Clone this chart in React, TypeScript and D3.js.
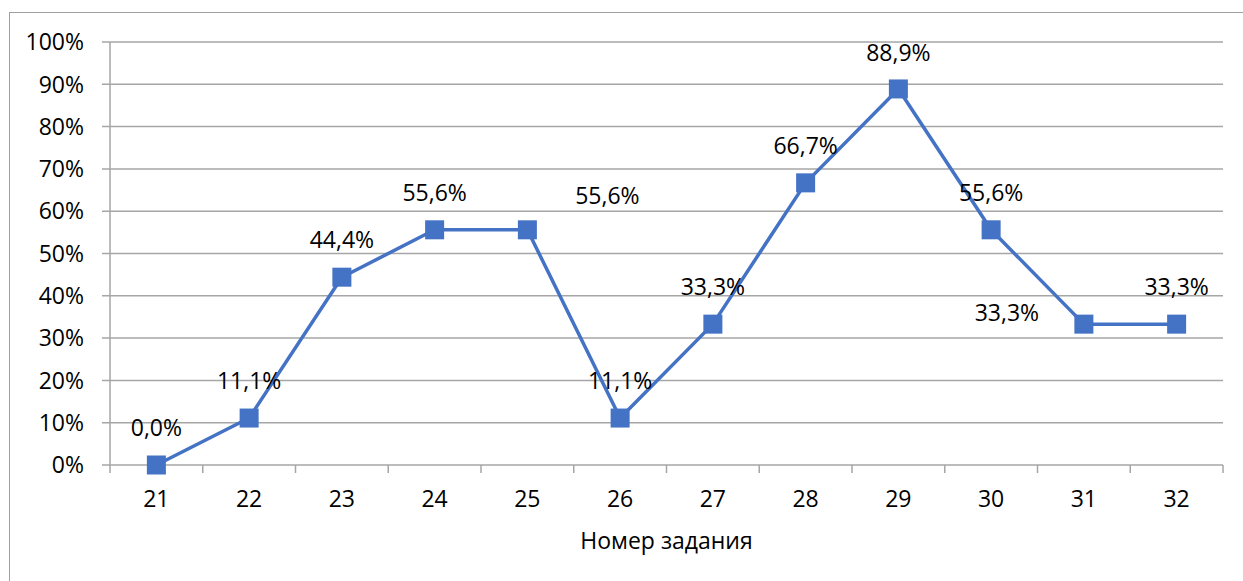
import * as d3 from "d3";
import React from "react";

// номера заданий и доля выполнения (%)
const tasks = ["21", "22", "23", "24", "25", "26", "27", "28", "29", "30", "31", "32"];
const percents = [0, 11.1, 44.4, 55.6, 55.6, 11.1, 33.3, 66.7, 88.9, 55.6, 33.3, 33.3];
const yTicks = [0, 10, 20, 30, 40, 50, 60, 70, 80, 90, 100];
// подписи, сдвинутые вручную (как в исходной диаграмме)
const labelShiftX = [0, 0, 0, 0, 80, 0, 0, 0, 0, 0, -77, 0];
const labelShiftY = [0, 0, 0, 0, 3, 0, 0, 0, 1, 0, 26, 0];

const W = 1243;
const H = 581;
const left = 110;
const right = 1223;
const top = 42;
const bottom = 465;
const font = "'Open Sans', sans-serif";
const fs = 23;
const grid = "#a6a6a6";
const blue = "#4472C4";

const fmt = (v: number) => v.toFixed(1).replace(".", ",") + "%";

export default function App() {
  const x = d3.scaleBand().domain(tasks).range([left, right]);
  const y = d3.scaleLinear().domain([0, 100]).range([bottom, top]);
  const cx = (t: string) => (x(t) as number) + x.bandwidth() / 2;

  const line = d3
    .line<number>()
    .x((d, i) => cx(tasks[i]))
    .y((d) => y(d));

  const boundaries = tasks.map((t) => x(t) as number).concat([right]);

  return (
    <svg
      width={W}
      height={H}
      style={{ position: "absolute", left: 0, top: 0, background: "#fff" }}
      fontFamily={font}
    >
      <rect x={9.5} y={12.5} width={1300} height={700} fill="none" stroke="#a0a0a0" strokeWidth={1} />

      {yTicks.map((t) => (
        <g key={t}>
          <line x1={left - 8} x2={right} y1={y(t)} y2={y(t)} stroke={grid} strokeWidth={1.5} />
          <text x={left - 26} y={y(t)} dy="0.36em" textAnchor="end" fontSize={fs} fill="#000">
            {t}%
          </text>
        </g>
      ))}

      <line x1={left} x2={left} y1={top} y2={bottom} stroke={grid} strokeWidth={1.5} />
      {boundaries.map((b, i) => (
        <line key={i} x1={b} x2={b} y1={bottom} y2={bottom + 8} stroke={grid} strokeWidth={1.5} />
      ))}

      {tasks.map((t) => (
        <text key={t} x={cx(t)} y={499} dy="0.36em" textAnchor="middle" fontSize={fs} fill="#000">
          {t}
        </text>
      ))}

      <text x={(left + right) / 2} y={541} dy="0.36em" textAnchor="middle" fontSize={fs} fill="#000">
        Номер задания
      </text>

      <path d={line(percents) || ""} fill="none" stroke={blue} strokeWidth={3.5} strokeLinejoin="round" />

      {percents.map((v, i) => (
        <rect
          key={i}
          x={cx(tasks[i]) - 9.5}
          y={y(v) - 9.5}
          width={19}
          height={19}
          fill={blue}
        />
      ))}

      {percents.map((v, i) => (
        <text
          key={i}
          x={cx(tasks[i]) + labelShiftX[i]}
          y={y(v) - 37 + labelShiftY[i]}
          dy="0.36em"
          textAnchor="middle"
          fontSize={fs}
          fill="#000"
        >
          {fmt(v)}
        </text>
      ))}
    </svg>
  );
}
